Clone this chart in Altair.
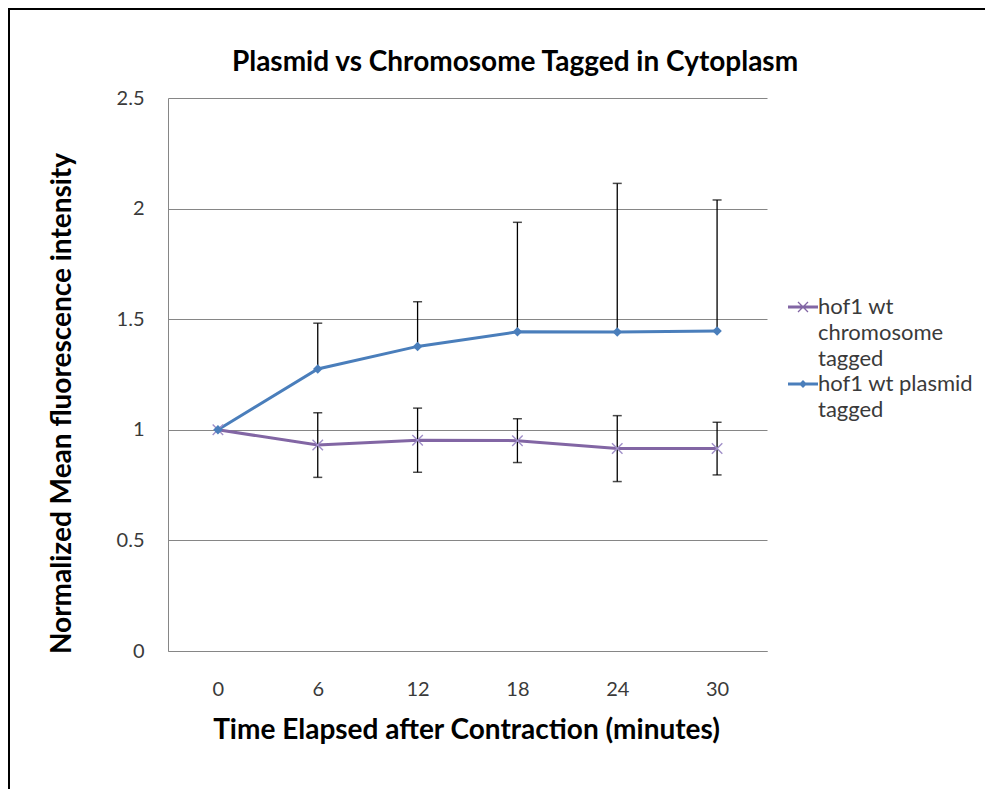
import altair as alt
import pandas as pd

# ---- data ----
times = ["0", "6", "12", "18", "24", "30"]
series_names = ["hof1 wt chromosome tagged", "hof1 wt plasmid tagged"]
chromosome_mean = [1.0, 0.931, 0.953, 0.951, 0.915, 0.915]
chromosome_err = [0.0, 0.146, 0.145, 0.099, 0.149, 0.119]
plasmid_mean = [1.0, 1.275, 1.377, 1.443, 1.442, 1.447]
plasmid_err_up = [0.0, 0.207, 0.202, 0.495, 0.672, 0.592]
y_ticks = [0, 0.5, 1, 1.5, 2, 2.5]
chart_title = "Plasmid vs Chromosome Tagged in Cytoplasm"

CHROMO_COLOR = "#8266A4"
CHROMO_MARK = "#A08FC8"
PLASMID_COLOR = "#4A7EBB"
GRID = "#868686"
TEXT = "#3a3a3a"
FONT = "Lato"

rows = []
for t, m, e in zip(times, chromosome_mean, chromosome_err):
    rows.append(dict(time=t, series=series_names[0], mean=m, lo=m - e, hi=m + e,
                     cap_lo=(m - e) if e > 0 else None, cap_hi=(m + e) if e > 0 else None))
for t, m, e in zip(times, plasmid_mean, plasmid_err_up):
    rows.append(dict(time=t, series=series_names[1], mean=m, lo=m, hi=m + e,
                     cap_lo=None, cap_hi=(m + e) if e > 0 else None))
df = pd.DataFrame(rows)

x_enc = alt.X("time:N", sort=times,
              scale=alt.Scale(type="point", padding=0.5),
              axis=alt.Axis(title="Time Elapsed after Contraction (minutes)", labelAngle=0,
                            ticks=False, grid=False, domainColor=GRID, labelPadding=28,
                            labelFontSize=20, labelColor=TEXT, labelFont=FONT,
                            titleFont=FONT, titleFontSize=28, titleFontWeight="bold",
                            titleColor="black", titleX=298, titleY=79,
                            titleBaseline="middle", titleAlign="center"))
y_scale = alt.Scale(domain=[0, 2.5], nice=False, zero=True)
y_axis = alt.Axis(title="Normalized Mean fluorescence intensity", values=y_ticks, format="~g",
                  ticks=False, grid=True, gridColor=GRID, domainColor=GRID, labelPadding=24,
                  labelFontSize=20, labelColor=TEXT, labelFont=FONT,
                  titleFont=FONT, titleFontSize=28, titleFontWeight="bold", titleColor="black",
                  titleAngle=-90, titleX=-106, titleY=305, titleBaseline="middle",
                  titleAlign="center")

base = alt.Chart(df)

line_c = base.transform_filter(alt.datum.series == series_names[0]).mark_line(
    color=CHROMO_COLOR, strokeWidth=3).encode(x=x_enc, y=alt.Y("mean:Q", scale=y_scale, axis=y_axis))
line_p = base.transform_filter(alt.datum.series == series_names[1]).mark_line(
    color=PLASMID_COLOR, strokeWidth=3).encode(x=x_enc, y=alt.Y("mean:Q", scale=y_scale, axis=y_axis))

err = base.mark_rule(color="black", strokeWidth=1.3).encode(
    x=x_enc, y=alt.Y("lo:Q", scale=y_scale), y2="hi:Q")
cap_hi = base.transform_filter("datum.cap_hi != null").mark_tick(
    color="black", size=9, thickness=1.5).encode(x=x_enc, y=alt.Y("cap_hi:Q", scale=y_scale))
cap_lo = base.transform_filter("datum.cap_lo != null").mark_tick(
    color="black", size=9, thickness=1.5).encode(x=x_enc, y=alt.Y("cap_lo:Q", scale=y_scale))

pts_c = base.transform_filter(alt.datum.series == series_names[0]).mark_point(
    shape="M-1,-1L1,1M-1,1L1,-1", filled=False, size=110, strokeWidth=1.4,
    color=CHROMO_MARK, opacity=1).encode(x=x_enc, y=alt.Y("mean:Q", scale=y_scale))
pts_p = base.transform_filter(alt.datum.series == series_names[1]).mark_point(
    shape="diamond", filled=True, size=90, color=PLASMID_COLOR, opacity=1).encode(
    x=x_enc, y=alt.Y("mean:Q", scale=y_scale))

chromo_legend_path = ("M-3,-0.3H3V0.3H-3Z "
                      "M-0.908,-1.092L1.092,0.908L0.908,1.092L-1.092,-0.908Z "
                      "M-1.092,0.908L0.908,-1.092L1.092,-0.908L-0.908,1.092Z")
plasmid_legend_path = "M-3,-0.3H3V0.3H-3Z M0,-0.8L0.8,0L0,0.8L-0.8,0Z"

legend = alt.Legend(title=None, orient="none", legendX=624, legendY=198,
                    symbolSize=100, symbolOpacity=1, symbolStrokeWidth=0,
                    labelFont=FONT, labelFontSize=22, labelColor=TEXT, labelOffset=4,
                    labelLimit=300, padding=0, rowPadding=3,
                    labelExpr=("datum.label == 'hof1 wt chromosome tagged' ? "
                               "['hof1 wt', 'chromosome', 'tagged'] : ['hof1 wt plasmid', 'tagged']"))
legend_layer = base.mark_point(filled=True, opacity=0).encode(
    x=x_enc, y=alt.Y("mean:Q", scale=y_scale),
    color=alt.Color("series:N", scale=alt.Scale(domain=series_names,
                                                range=[CHROMO_COLOR, PLASMID_COLOR]), legend=legend),
    shape=alt.Shape("series:N", scale=alt.Scale(domain=series_names,
                                                range=[chromo_legend_path, plasmid_legend_path]),
                    legend=legend))

frame = alt.Data(values=[{}])
border_left = alt.Chart(frame).mark_rule(color="black", strokeWidth=2).encode(
    x=alt.value(-159), y=alt.value(-89), y2=alt.value(700))
border_top = alt.Chart(frame).mark_rule(color="black", strokeWidth=2).encode(
    x=alt.value(-160), x2=alt.value(830), y=alt.value(-89))
title_text = alt.Chart(frame).mark_text(
    text=chart_title, font=FONT, fontSize=28, fontWeight="bold", color="black",
    align="center", baseline="middle").encode(x=alt.value(347), y=alt.value(-35))

chart = alt.layer(line_c, line_p, err, cap_hi, cap_lo, pts_c, pts_p, legend_layer,
                  border_left, border_top, title_text).properties(
    width=599, height=553,
    autosize=alt.AutoSizeParams(type="none"),
    padding={"left": 160, "top": 90, "right": 218, "bottom": 138},
).configure(style={"guide-label": {"lineHeight": 26}}).configure_view(strokeWidth=0)

chart.save("out.html", embed_options={"renderer": "svg", "actions": False})
